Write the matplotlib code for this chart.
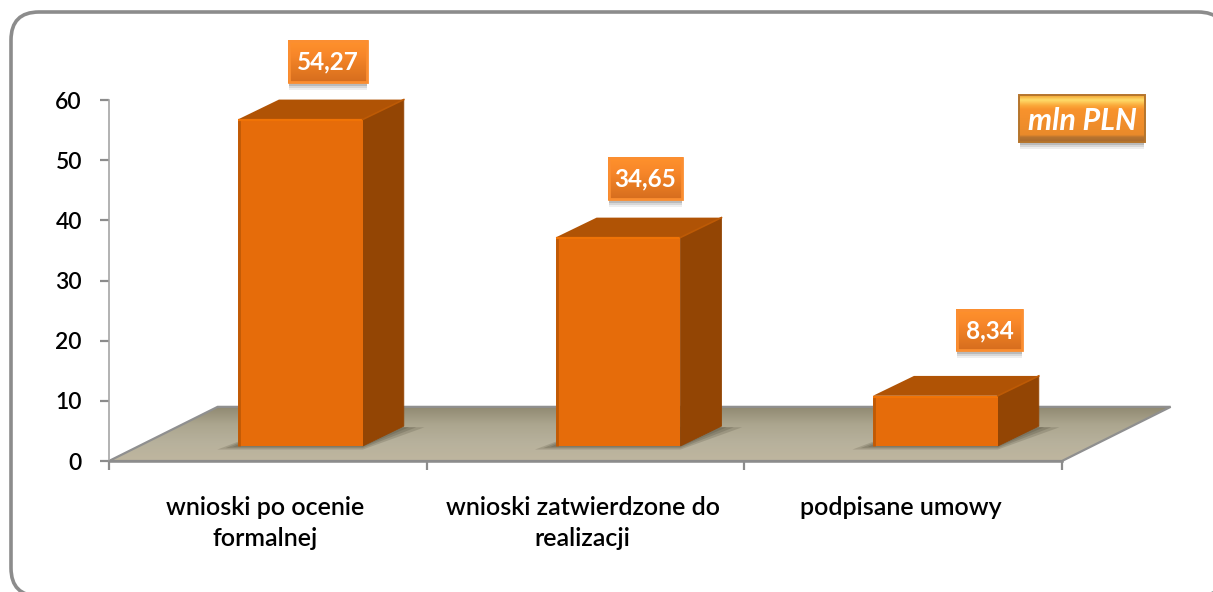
import numpy as np
import matplotlib
matplotlib.use("Agg")
import matplotlib.pyplot as plt
from matplotlib.patches import FancyBboxPatch, Polygon, Rectangle
from matplotlib.colors import LinearSegmentedColormap

W, H = 1213, 592

categories = ["wnioski po ocenie\nformalnej", "wnioski zatwierdzone do\nrealizacji", "podpisane umowy"]
values = [54.27, 34.65, 8.34]
value_labels = ["54,27", "34,65", "8,34"]
yticks = [0, 10, 20, 30, 40, 50, 60]
unit_label = "mln PLN"

plt.rcParams["font.family"] = ["Lato", "DejaVu Sans"]

fig = plt.figure(figsize=(W / 100, H / 100), dpi=100)

# background axes in pixels, for the frame and the callout boxes
bg = fig.add_axes([0, 0, 1, 1])
bg.set_xlim(0, W)
bg.set_ylim(H, 0)
bg.axis("off")
bg.add_patch(FancyBboxPatch((11, 12), 1215, 584, boxstyle="round,pad=0,rounding_size=28",
                            fc="white", ec="#8c8c8c", lw=2.6))

ax = fig.add_axes([109 / W, 1 - 461 / H, (1062 - 109) / W, (461 - 100) / H])
ax.patch.set_alpha(0)
ax.set_xlim(0, 3)
ax.set_ylim(0, 60)

# 3d look, in data units
depth_x = 0.129
depth_y = 3.3
floor_x = 0.342
floor_y = 9.0
bar_x = [0.406, 1.406, 2.405]
bar_w = 0.393
bar_base = 2.5


def grad(a, extent, colors, zorder=1):
    cmap = LinearSegmentedColormap.from_list("g", colors)
    z = np.linspace(0, 1, 128).reshape(-1, 1)
    im = a.imshow(z, extent=extent, cmap=cmap, vmin=0, vmax=1, aspect="auto",
                  origin="upper", zorder=zorder, interpolation="bilinear")
    return im


# floor
floor = Polygon([(0, 0), (floor_x, floor_y), (3 + floor_x, floor_y), (3, 0)], closed=True,
                fc="none", ec="#8f8f8f", lw=1.6, zorder=2, clip_on=False)
ax.add_patch(floor)
floor_im = grad(ax, (0, 3 + floor_x, 0, floor_y), ["#8f8870", "#aca68f", "#b7b19c", "#bfb69f"], zorder=1)
floor_im.set_clip_box(fig.bbox)
floor_im.set_clip_path(floor)

# bars
for x, v in zip(bar_x, values):
    top = v + bar_base
    # soft shadow on the floor
    for grow, a in zip([1.0, 0.6, 0.25], [0.25, 0.3, 0.35]):
        ax.add_patch(Polygon([(x - 0.065 * grow, bar_base - 0.6 * grow), (x + bar_w, bar_base - 0.6 * grow),
                              (x + bar_w + depth_x + 0.065 * grow, bar_base + depth_y - 0.2),
                              (x + depth_x, bar_base + depth_y)],
                             closed=True, fc="#5f5a48", ec="none", alpha=a, zorder=3, clip_on=False))
    # side and top
    ax.add_patch(Polygon([(x + bar_w, bar_base), (x + bar_w + depth_x, bar_base + depth_y),
                          (x + bar_w + depth_x, top + depth_y), (x + bar_w, top)],
                         closed=True, fc="#934504", ec="#934504", lw=0.6, zorder=4, clip_on=False))
    ax.add_patch(Polygon([(x, top), (x + depth_x, top + depth_y),
                          (x + bar_w + depth_x, top + depth_y), (x + bar_w, top)],
                         closed=True, fc="#b05305", ec="none", zorder=4, clip_on=False))
    ax.bar(x, v, width=bar_w, bottom=bar_base, align="edge", color="#e66c0a",
           edgecolor="none", zorder=5, clip_on=False)
    # lit edges of the front face
    ax.plot([x + 0.004, x + 0.004], [bar_base, top], color="#bf5a06", lw=2, zorder=6, solid_capstyle="butt")
    ax.plot([x, x + bar_w], [top - 0.15, top - 0.15], color="#f07306", lw=1.6, zorder=6, solid_capstyle="butt")
    ax.plot([x + bar_w, x + bar_w + depth_x], [top, top + depth_y], color="#bd5a05", lw=1.2, zorder=6,
            clip_on=False)

# axes
for s in ["top", "right"]:
    ax.spines[s].set_visible(False)
ax.spines["left"].set_color("#a6a6a6")
ax.spines["left"].set_linewidth(1.2)
ax.spines["bottom"].set_color("#8c8c8c")
ax.spines["bottom"].set_linewidth(1.8)
ax.spines["bottom"].set_zorder(7)
ax.set_yticks(yticks)
ax.tick_params(axis="y", length=6.5, width=1.6, color="#8c8c8c", pad=13, labelsize=16.5, labelcolor="black")
ax.set_xticks([0, 1, 2, 3])
ax.set_xticklabels([])
ax.tick_params(axis="x", length=6.5, width=1.6, color="#8c8c8c")
for lab in ax.get_yticklabels():
    lab.set_fontweight("semibold")

for i, c in enumerate(categories):
    ax.annotate(c, (i + 0.5, 0), xytext=(-2, -25.5), textcoords="offset points", ha="center", va="top",
                fontsize=18, color="black", linespacing=1.4, fontweight="semibold", annotation_clip=False)


# callouts, in pixels
def shadow(x0, y0, x1, y1):
    for k, a in zip([7, 5, 3], [0.10, 0.16, 0.24]):
        bg.add_patch(Rectangle((x0 + 1, y1 - 3), x1 - x0 - 2, k + 3, fc="#606060", ec="none", alpha=a, zorder=2))


label_boxes = [(288, 40, 368, 83), (608, 157, 683, 200), (956, 309, 1023, 351)]
for (x0, y0, x1, y1), txt in zip(label_boxes, value_labels):
    shadow(x0, y0, x1, y1)
    grad(bg, (x0, x1, y1, y0), ["#ff922c", "#f8872a", "#e67a22", "#d56c1e"], zorder=3)
    bg.add_patch(Rectangle((x0 + 1, y0 + 1), x1 - x0 - 2, y1 - y0 - 2, fc="none", ec="#fb8e31", lw=2, zorder=4))
    bg.text((x0 + x1) / 2, (y0 + y1) / 2 + 0.5, txt, ha="center", va="center", color="white",
            fontsize=17.5, fontweight="bold", zorder=5)

ux0, uy0, ux1, uy1 = 1019, 95, 1145, 142
shadow(ux0, uy0, ux1, uy1)
grad(bg, (ux0, ux1, uy1, uy0),
     [(0, "#f0a030"), (0.1, "#ffdc6a"), (0.22, "#fba93a"), (0.3, "#f8932d"), (0.85, "#ea8a2a"),
      (0.9, "#b87430"), (1, "#a86a2e")], zorder=3)
bg.add_patch(Rectangle((ux0, uy0), ux1 - ux0, uy1 - uy0, fc="none", ec="#b5752c", lw=1.4, zorder=4))
bg.text((ux0 + ux1) / 2, (uy0 + uy1) / 2 + 2, unit_label, ha="center", va="center", color="white",
        fontsize=22, fontweight="bold", fontstyle="italic", zorder=5)

bg.set_xlim(0, W)
bg.set_ylim(H, 0)
ax.set_xlim(0, 3)
ax.set_ylim(0, 60)

fig.savefig("out.png", dpi=100)
